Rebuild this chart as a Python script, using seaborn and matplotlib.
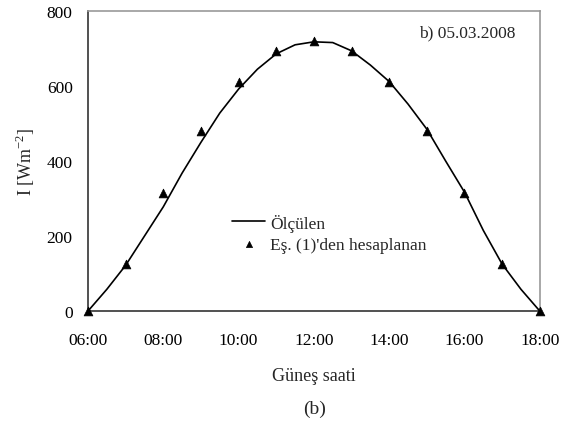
import numpy as np
import pandas as pd
import matplotlib
matplotlib.use("Agg")
import matplotlib.pyplot as plt
from matplotlib.ticker import MultipleLocator, FuncFormatter
import seaborn as sns

# measured irradiance (half-hour readings), solar time in hours
measured_hours = [6.0, 6.5, 7.0, 7.5, 8.0, 8.5, 9.0, 9.5, 10.0, 10.5, 11.0, 11.5,
                  12.0, 12.5, 13.0, 13.5, 14.0, 14.5, 15.0, 15.5, 16.0, 16.5,
                  17.0, 17.5, 18.0]
measured_vals = [0, 58, 122, 200, 278, 368, 450, 528, 592, 645, 686, 710,
                 718, 716, 694, 656, 612, 552, 485, 400, 317, 215,
                 125, 58, 0]

# computed from Eq. (1), hourly
calc_hours = [6, 7, 8, 9, 10, 11, 12, 13, 14, 15, 16, 17, 18]
calc_vals = [0, 125, 315, 480, 610, 693, 720, 693, 610, 480, 315, 125, 0]

sns.set_style("white")
plt.rcParams['font.family'] = ['Liberation Serif', 'DejaVu Serif']
plt.rcParams['mathtext.fontset'] = 'custom'
plt.rcParams['mathtext.rm'] = 'Liberation Serif'
plt.rcParams['axes.unicode_minus'] = False

fig = plt.figure(figsize=(5.7, 4.31), dpi=100)
ax = fig.add_axes([0.1544, 0.276, 0.7926, 0.696])

df_line = pd.DataFrame({"saat": measured_hours, "I": measured_vals})
df_calc = pd.DataFrame({"saat": calc_hours, "I": calc_vals})

sns.lineplot(data=df_line, x="saat", y="I", color="black", linewidth=1.2,
             ax=ax, label="Ölçülen", solid_joinstyle="round")
sns.scatterplot(data=df_calc, x="saat", y="I", marker="^", color="black",
                s=40, edgecolor="black", ax=ax, clip_on=False,
                label="Eş. (1)'den hesaplanan", zorder=5)

ax.set_xlim(6, 18)
ax.set_ylim(0, 800)
ax.xaxis.set_major_locator(MultipleLocator(2))
ax.xaxis.set_minor_locator(MultipleLocator(1))
ax.yaxis.set_major_locator(MultipleLocator(200))
ax.xaxis.set_major_formatter(FuncFormatter(lambda v, p: f"{int(v):02d}:00"))
ax.tick_params(axis="both", which="both", direction="inout", labelsize=12.5,
               colors="black", width=1, pad=6)
ax.tick_params(axis="both", which="major", length=10)
ax.tick_params(axis="x", which="minor", length=10)
ax.tick_params(axis="x", which="major", pad=10)

for side in ["left", "bottom"]:
    ax.spines[side].set_color("#333333")
    ax.spines[side].set_linewidth(1.2)
for side in ["top", "right"]:
    ax.spines[side].set_color("#999999")
    ax.spines[side].set_linewidth(1.2)

ax.set_xlabel("Güneş saati", fontsize=13, labelpad=14)
ax.set_ylabel("I [Wm$^{\\mathrm{-2}}$]", fontsize=13, labelpad=7)

ax.text(0.947, 0.93, "b) 05.03.2008", transform=ax.transAxes, ha="right",
        va="center", fontsize=12.5)

ax.legend(loc="upper left", bbox_to_anchor=(0.319, 0.325), frameon=False,
          fontsize=12.5, handlelength=1.9, handletextpad=0.3,
          labelspacing=0.3, borderaxespad=0, borderpad=0, markerscale=0.7)

fig.text(0.551, 0.05, "(b)", ha="center", va="center", fontsize=14)

fig.savefig("out.png", dpi=100)
